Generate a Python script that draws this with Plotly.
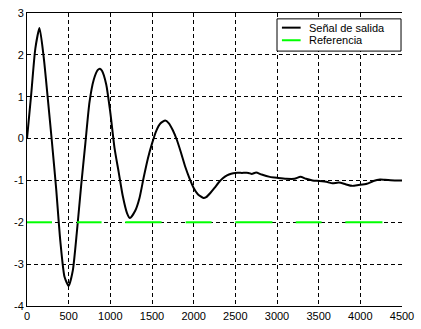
import plotly.graph_objects as go

# Output signal
t_out = [0, 50, 100, 150, 200, 250, 300, 350, 400, 450, 500, 550, 600, 650, 700, 750,
         800, 850, 875, 900, 950, 1000, 1050, 1100, 1150, 1200, 1235, 1300, 1350, 1400,
         1450, 1500, 1550, 1600, 1659, 1700, 1750, 1800, 1850, 1900, 1950, 2000, 2050,
         2118, 2150, 2200, 2250, 2300, 2350, 2400, 2450, 2500, 2580, 2658, 2697, 2749,
         2816, 2914, 3013, 3111, 3210, 3281, 3348, 3427, 3506, 3605, 3664, 3743, 3822,
         3900, 3979, 4078, 4157, 4236, 4295, 4413, 4500]
y_out = [0.0, 1.05, 2.15, 2.64, 1.95, 0.95, -0.1, -1.2, -2.45, -3.3, -3.52, -3.15, -2.2,
         -1.12, -0.12, 0.87, 1.4, 1.64, 1.67, 1.62, 1.3, 0.62, -0.22, -0.8, -1.38, -1.78,
         -1.90, -1.72, -1.42, -0.93, -0.48, -0.12, 0.18, 0.36, 0.43, 0.37, 0.2, -0.04,
         -0.35, -0.68, -0.95, -1.18, -1.33, -1.42, -1.40, -1.3, -1.18, -1.05, -0.95,
         -0.88, -0.84, -0.82, -0.82, -0.82, -0.845, -0.81, -0.86, -0.915, -0.94, -0.96,
         -0.96, -0.915, -0.96, -1.0, -1.015, -1.04, -1.07, -1.05, -1.09, -1.13, -1.11,
         -1.08, -1.015, -0.98, -0.985, -1.0, -1.0]

# Reference signal: visible green segments at -2
ref_level = -2
ref_segments = [(0, 300), (600, 895), (1180, 1615), (1905, 2215),
                (2500, 2945), (3225, 3535), (3820, 4265)]

x_ticks = [0, 500, 1000, 1500, 2000, 2500, 3000, 3500, 4000, 4500]
y_ticks = [-4, -3, -2, -1, 0, 1, 2, 3]

legend_names = ["Señal de salida", "Referencia"]
legend_colors = ["black", "#00ff00"]

ref_x, ref_y = [], []
for a, b in ref_segments:
    ref_x += [a, b, None]
    ref_y += [ref_level, ref_level, None]

fig = go.Figure()
fig.add_trace(go.Scatter(x=t_out, y=y_out, mode="lines", name=legend_names[0],
                         line=dict(color=legend_colors[0], width=2, shape="spline",
                                   smoothing=0.6)))
fig.add_trace(go.Scatter(x=ref_x, y=ref_y, mode="lines", name=legend_names[1],
                         line=dict(color=legend_colors[1], width=2)))

font = dict(family="Liberation Sans, Arial, sans-serif", size=11, color="black")

# Manual legend box (paper coordinates of the plot area)
shapes = [dict(type="rect", xref="paper", yref="paper", x0=0.6667, x1=0.9974,
               y0=0.870, y1=0.980, line=dict(color="black", width=1),
               fillcolor="white", layer="above")]
annotations = []
rows_y = [0.950, 0.907]
for name, col, ry in zip(legend_names, legend_colors, rows_y):
    shapes.append(dict(type="line", xref="paper", yref="paper", x0=0.6798, x1=0.7297,
                       y0=ry, y1=ry, line=dict(color=col, width=2), layer="above"))
    annotations.append(dict(xref="paper", yref="paper", x=0.7454, y=ry, text=name,
                            showarrow=False, xanchor="left", yanchor="middle",
                            font=font))

fig.update_layout(
    width=421, height=329,
    margin=dict(l=27, r=13, t=7, b=21),
    paper_bgcolor="white", plot_bgcolor="white",
    font=font,
    showlegend=False,
    shapes=shapes,
    annotations=annotations,
    xaxis=dict(range=[0, 4500], tickvals=x_ticks, ticktext=[str(v) for v in x_ticks],
               showgrid=True, gridcolor="black", griddash="4px,3px", gridwidth=1,
               showline=True, linecolor="black", linewidth=1, mirror=True,
               zeroline=False, ticks="", ticklen=0),
    yaxis=dict(range=[-4, 3], tickvals=y_ticks, ticktext=[str(v) for v in y_ticks],
               showgrid=True, gridcolor="black", griddash="4px,3px", gridwidth=1,
               showline=True, linecolor="black", linewidth=1, mirror=False,
               zeroline=False, ticks="", ticklen=0),
)

fig.write_html("out.html")
